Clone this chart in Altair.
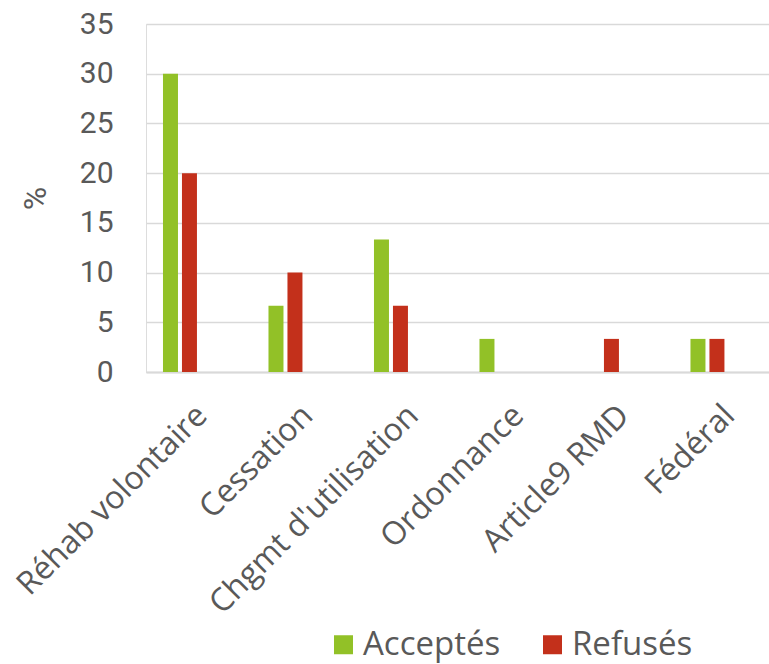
import altair as alt
import pandas as pd

categories = ["Réhab volontaire", "Cessation", "Chgmt d'utilisation", "Ordonnance", "Article9 RMD", "Fédéral"]
acceptes = [30.0, 6.67, 13.33, 3.33, 0.0, 3.33]
refuses = [20.0, 10.0, 6.67, 0.0, 3.33, 3.33]
series = ["Acceptés", "Refusés"]
colors = ["#92C127", "#C3301B"]

rows = []
for c, a, r in zip(categories, acceptes, refuses):
    rows.append({"cat": c, "serie": series[0], "val": a})
    rows.append({"cat": c, "serie": series[1], "val": r})
df = pd.DataFrame(rows)

grey = "#595959"

chart = alt.Chart(df).mark_bar().encode(
    x=alt.X("cat:N", sort=categories,
            scale=alt.Scale(paddingInner=0.678, paddingOuter=0.2917, align=0.276),
            axis=alt.Axis(title=None, labelAngle=-45, labelAlign="right", labelBaseline="middle",
                          labelOffset=22, labelPadding=38, ticks=False, labelLimit=0,
                          domainColor="#d9d9d9", domainWidth=2,
                          labelFont="Open Sans", labelFontSize=32, labelColor=grey)),
    xOffset=alt.XOffset("serie:N", sort=series, scale=alt.Scale(paddingInner=0.21)),
    y=alt.Y("val:Q", scale=alt.Scale(domain=[0, 35], nice=False),
            axis=alt.Axis(title="%", values=[0, 5, 10, 15, 20, 25, 30, 35], ticks=False, domain=False,
                          gridColor="#d9d9d9", gridWidth=1.5,
                          labelFont="Roboto", labelFontSize=30, labelColor=grey, labelPadding=33,
                          titleFont="Roboto", titleFontSize=32, titleColor=grey, titleFontWeight="normal",
                          titleAngle=-90, titleX=-111, titleY=174, titleAlign="center", titleBaseline="middle")),
    color=alt.Color("serie:N", sort=series, scale=alt.Scale(domain=series, range=colors),
                    legend=alt.Legend(title=None, orient="none", direction="horizontal",
                                      legendX=181, legendY=604, padding=0,
                                      symbolType="square", symbolSize=361, symbolStrokeWidth=0,
                                      labelFont="Open Sans", labelFontSize=33, labelColor=grey,
                                      labelOffset=3, columnPadding=35)),
).properties(
    width=623, height=348,
    autosize=alt.AutoSizeParams(type="none"),
    padding={"left": 146, "top": 24, "right": 0, "bottom": 292},
).configure_view(stroke=None).configure(background="white")

chart.save("out.html", embed_options={"renderer": "svg", "actions": False})
